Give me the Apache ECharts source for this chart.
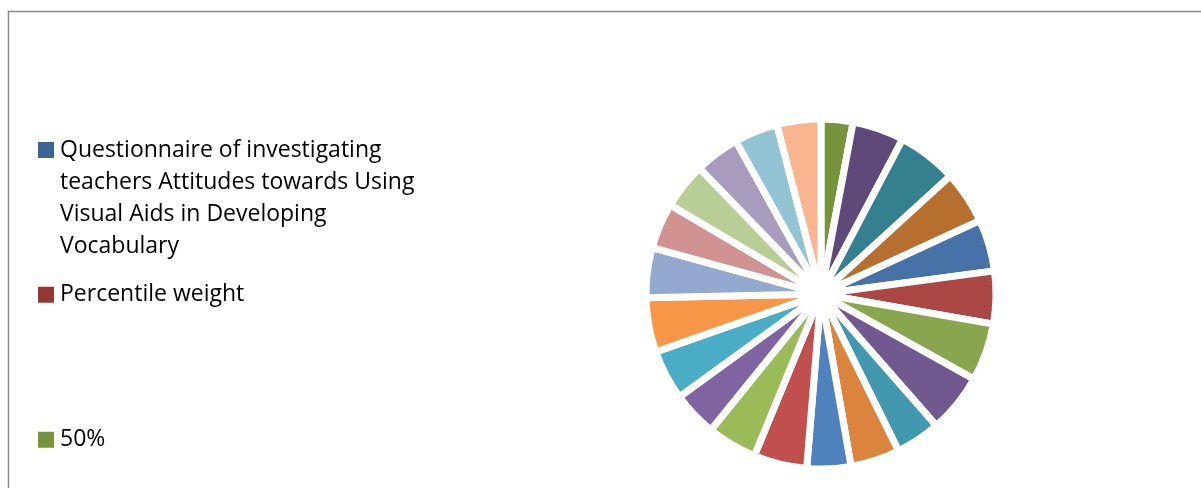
<!DOCTYPE html>
<html>
<head>
<meta charset="utf-8">
<script src="https://cdn.jsdelivr.net/npm/echarts@6/dist/echarts.min.js"></script>
<style>
  html, body { margin: 0; padding: 0; background: #fff; }
  #main { width: 1201px; height: 488px; }
</style>
</head>
<body>
<div id="main"></div>
<script>
// point names (first three are the ones listed in the legend)
var names = [
  'Questionnaire of investigating teachers Attitudes towards Using Visual Aids in Developing Vocabulary',
  'Percentile weight', '50%',
  '4', '5', '6', '7', '8', '9', '10', '11', '12', '13', '14',
  '15', '16', '17', '18', '19', '20', '21', '22', '23', '24'
];
// slice sizes (clockwise from 12 o'clock)
var values = [
  0, 0, 10.6,
  17.2, 19.8, 17.6, 17.2, 17.5, 19.2, 19.7, 14.9, 16.4, 14.6,
  17.7, 16.6, 15.0, 16.7, 18.1, 16.6, 15.2, 15.4, 14.9, 14.5, 14.6
];
var colors = [
  '#3c6494', '#953735', '#77933c',
  '#5f497a', '#35808f', '#b76f30', '#4672a8', '#aa4643', '#89a54e', '#71588f',
  '#4198af', '#db843d', '#4f81bd', '#c0504d', '#9bbb59', '#8064a2', '#4bacc6',
  '#f79646', '#93a9cf', '#d09392', '#b9cd96', '#a99bbd', '#93c4d4', '#f9b590'
];
// legend wraps the long name like the original; blank lines keep the square beside line one
var legendText = {};
legendText[names[0]] = '\n\n\nQuestionnaire of investigating\nteachers Attitudes towards Using\nVisual Aids in Developing\nVocabulary';

var pieData = [];
for (var i = 0; i < names.length; i++) {
  pieData.push({ name: names[i], value: values[i], itemStyle: { color: colors[i] } });
}

function mkLegend(name, top) {
  return {
    data: [name],
    orient: 'vertical',
    left: 36,
    top: top,
    padding: 0,
    selectedMode: false,
    icon: 'rect',
    itemWidth: 18,
    itemHeight: 18,
    formatter: function (n) { return legendText[n] || n; },
    textStyle: {
      fontFamily: 'Open Sans',
      fontSize: 23,
      lineHeight: 32.3,
      color: '#000'
    }
  };
}

var chart = echarts.init(document.getElementById('main'));
chart.setOption({
  animation: false,
  graphic: [{
    type: 'rect',
    shape: { x: 8.5, y: 11.5, width: 1400, height: 700 },
    style: { fill: 'none', stroke: '#898989', lineWidth: 1.5 },
    silent: true
  }],
  legend: [
    mkLegend(names[0], 37),
    mkLegend(names[1], 278.5),
    mkLegend(names[2], 423.5)
  ],
  series: [{
    type: 'pie',
    center: [821, 294],
    radius: [0, 175],
    startAngle: 90,
    clockwise: true,
    label: { show: false },
    labelLine: { show: false },
    emphasis: { disabled: true },
    itemStyle: { borderColor: '#fff', borderWidth: 7 },
    data: pieData
  }]
});
</script>
</body>
</html>
